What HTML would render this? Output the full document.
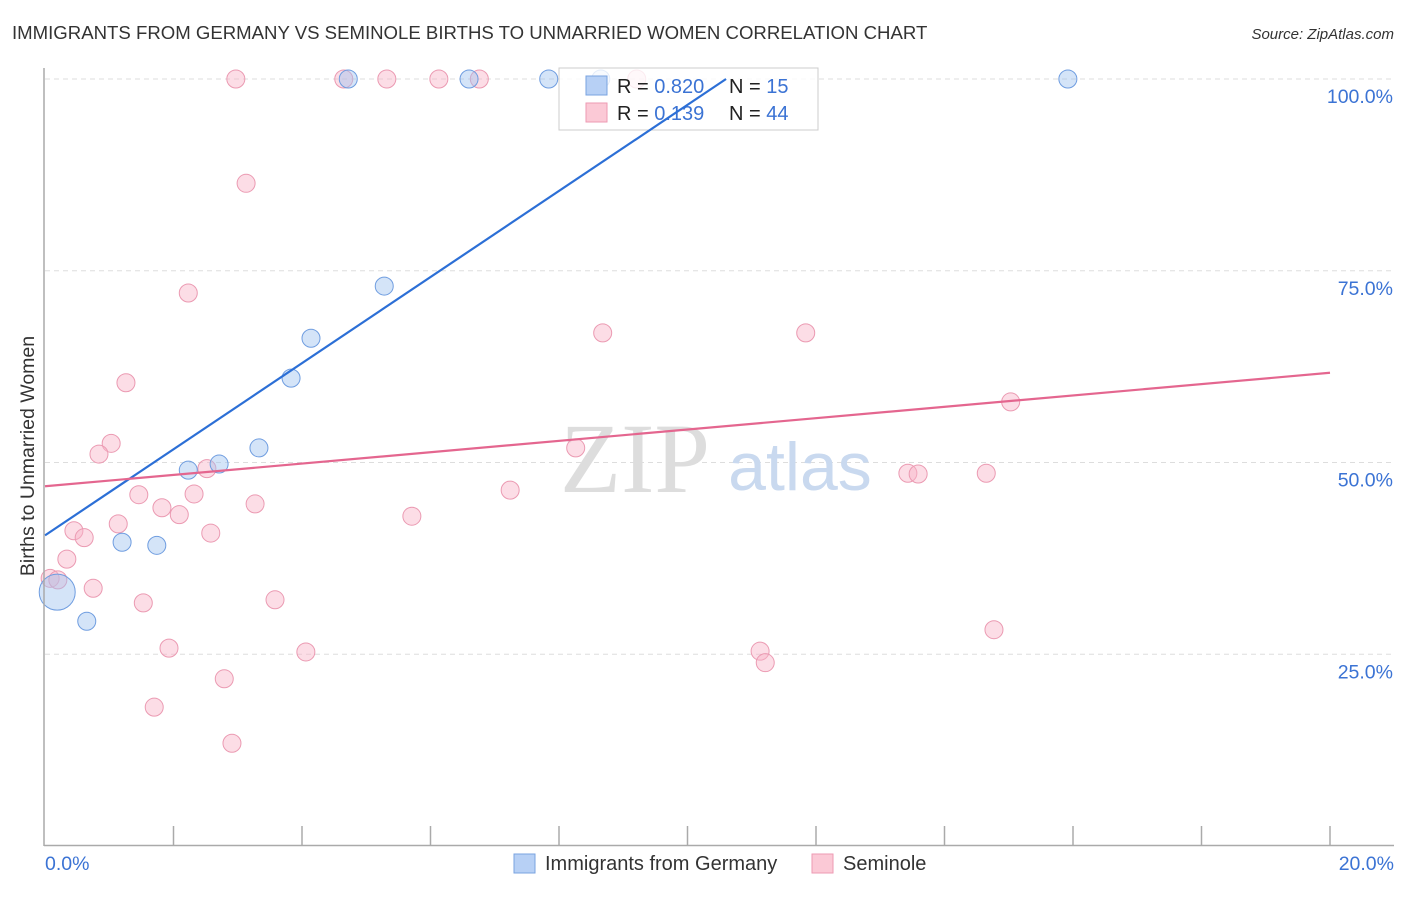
<!DOCTYPE html>
<html><head><meta charset="utf-8"><style>
body{margin:0;background:#fff;font-family:"Liberation Sans",sans-serif}
svg text{font-family:"Liberation Sans",sans-serif}
</style></head><body>
<svg id="c" width="1406" height="892" xmlns="http://www.w3.org/2000/svg">
<text x="12" y="39" font-size="18.6" fill="#333">IMMIGRANTS FROM GERMANY VS SEMINOLE BIRTHS TO UNMARRIED WOMEN CORRELATION CHART</text>
<text x="1394" y="39" font-size="15" fill="#333" font-style="italic" text-anchor="end">Source: ZipAtlas.com</text>
<text x="34" y="456" font-size="19.5" fill="#333" text-anchor="middle" transform="rotate(-90 34 456)">Births to Unmarried Women</text>
<g id="grid"></g>
<text x="635" y="492" font-size="100" fill="#ddd" text-anchor="middle" style="font-family:'Liberation Serif',serif">ZIP</text>
<text x="800" y="490" font-size="68" fill="#c9d9ef" text-anchor="middle">atlas</text>
<g id="pts"></g>
<g>
<rect x="559" y="68" width="259" height="62" fill="rgba(255,255,255,0.8)" stroke="#ccc"/>
<rect x="586" y="76" width="21" height="19" fill="#b7d0f5" stroke="#7aa3e0"/>
<rect x="586" y="103" width="21" height="19" fill="#fbc9d6" stroke="#ee9ab3"/>
<text x="617" y="93" font-size="20" fill="#222">R = <tspan fill="#3b73d4">0.820</tspan></text>
<text x="729" y="93" font-size="20" fill="#222">N =  <tspan fill="#3b73d4">15</tspan></text>
<text x="617" y="120" font-size="20" fill="#222">R =  <tspan fill="#3b73d4">0.139</tspan></text>
<text x="729" y="120" font-size="20" fill="#222">N = <tspan fill="#3b73d4">44</tspan></text>
</g>
<g id="lines"></g>
<line x1="44" y1="68" x2="44" y2="846" stroke="#aaa" stroke-width="1.5"/>
<line x1="44" y1="845.5" x2="1394" y2="845.5" stroke="#aaa" stroke-width="1.5"/>
<text x="45" y="870" font-size="19.5" fill="#3b73d4">0.0%</text>
<text x="1394" y="870" font-size="19.5" fill="#3b73d4" text-anchor="end">20.0%</text>
<g>
<rect x="514" y="854" width="21" height="19" fill="#b7d0f5" stroke="#7aa3e0"/>
<text x="545" y="870" font-size="20" fill="#333">Immigrants from Germany</text>
<rect x="812" y="854" width="21" height="19" fill="#fbc9d6" stroke="#ee9ab3"/>
<text x="843" y="870" font-size="20" fill="#333">Seminole</text>
</g>
</svg>
<script>
const yTicks=[25,50,75,100];
const yTickLabels=["25.0%","50.0%","75.0%","100.0%"];
const xTicks=[2,4,6,8,10,12,14,16,18,20];
const germanyX=[4.72,6.60,7.84,8.65,15.92,5.28,4.14,3.83,3.33,2.71,2.23,1.20,1.74,0.65,0.19];
const germanyY=[100,100,100,100,100,73.0,66.2,61.0,51.9,49.8,49.0,39.6,39.2,29.3,33.1];
const germanyR=[9,9,9,9,9,9,9,9,9,9,9,9,9,9,18];
const seminoleX=[2.97,4.65,5.32,6.13,6.76,9.21,3.13,2.23,1.26,1.03,0.84,2.52,1.46,2.32,1.82,2.09,3.27,2.58,1.14,0.45,0.61,0.34,0.08,0.20,0.75,1.53,3.58,1.93,4.06,2.79,1.70,2.91,5.71,7.24,8.26,8.68,11.84,15.03,13.43,13.59,14.65,14.77,11.13,11.21];
const seminoleY=[100,100,100,100,100,100,86.4,72.1,60.4,52.5,51.1,49.2,45.8,45.9,44.1,43.2,44.6,40.8,42.0,41.1,40.2,37.4,34.9,34.7,33.6,31.7,32.1,25.8,25.3,21.8,18.1,13.4,43.0,46.4,51.9,66.9,66.9,57.9,48.6,48.5,48.6,28.2,25.4,23.9];
const germanyTrend=[[0,40.5],[10.6,100]];
const seminoleTrend=[[0,46.9],[20,61.7]];
const NS="http://www.w3.org/2000/svg";
const sx=v=>45+v*64.25, sy=v=>846-v*7.67;
function mk(t,a,p){const e=document.createElementNS(NS,t);for(const k in a)e.setAttribute(k,a[k]);p.appendChild(e);return e;}
const grid=document.getElementById('grid');
yTicks.forEach((t,i)=>{
 const l=mk('line',{x1:45,x2:1393,y1:sy(t),y2:sy(t),stroke:'#ddd','stroke-dasharray':'5,4'},grid);
 
 
 const tx=mk('text',{x:1393,y:sy(t)+24,'font-size':19.5,fill:'#3b73d4','text-anchor':'end'},grid);
 tx.textContent=yTickLabels[i];
 
 
});
xTicks.forEach(t=>{
 const l=mk('line',{x1:sx(t),x2:sx(t),y1:826,y2:846,stroke:'#aaa','stroke-width':1.5},grid);
 
 
});
const pts=document.getElementById('pts');
seminoleX.forEach((x,i)=>{
 const c=mk('circle',{cx:sx(x),cy:sy(seminoleY[i]),r:9,fill:'rgba(248,180,200,0.45)',stroke:'#eb9ab2','stroke-width':1},pts);
 
 
});
germanyX.forEach((x,i)=>{
 const c=mk('circle',{cx:sx(x),cy:sy(germanyY[i]),r:germanyR[i],fill:'rgba(160,195,240,0.45)',stroke:'#6f9de0','stroke-width':1},pts);
 
 
});
const lines=document.getElementById('lines');
const g=mk('line',{x1:sx(germanyTrend[0][0]),y1:sy(germanyTrend[0][1]),x2:sx(germanyTrend[1][0]),y2:sy(germanyTrend[1][1]),stroke:'#2c6fd6','stroke-width':2.2},lines);


const s=mk('line',{x1:sx(seminoleTrend[0][0]),y1:sy(seminoleTrend[0][1]),x2:sx(seminoleTrend[1][0]),y2:sy(seminoleTrend[1][1]),stroke:'#e4668f','stroke-width':2.2},lines);


</script>
</body></html>
